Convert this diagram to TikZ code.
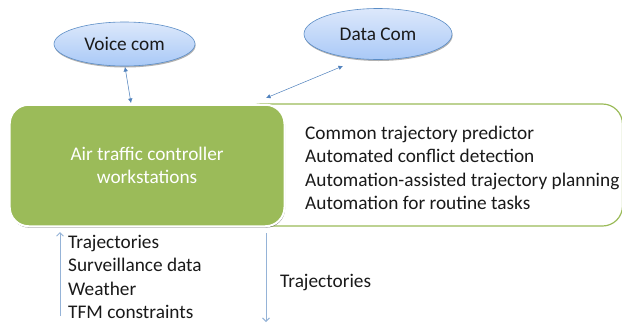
\documentclass[tikz,border=0pt]{standalone}
\usepackage{fontspec}
\setmainfont{Carlito}
\usetikzlibrary{shapes.geometric,arrows.meta,shadows,positioning}
\definecolor{grn}{HTML}{9BBB59}
\definecolor{ebd}{HTML}{5B8DC6}
\definecolor{ltop}{HTML}{DCE8FB}
\definecolor{lbot}{HTML}{A9C9F7}
\definecolor{arr}{HTML}{4F81BD}
\definecolor{arr2}{HTML}{95B3D7}
\definecolor{txt}{HTML}{1A1A1A}
\tikzset{x=1pt,y=-1pt,
 cloudy/.style={ellipse,draw=ebd,line width=0.6pt,top color=ltop,bottom color=lbot,inner sep=0pt,text=txt,font=\fontsize{19.3pt}{23pt}\selectfont,
  drop shadow={shadow xshift=0.6pt,shadow yshift=-1.5pt,opacity=.3,fill=black}},
 dark/.style={draw=arr,line width=0.5pt,{Latex[length=4.5pt,width=4.5pt]}-{Latex[length=4.5pt,width=4.5pt]}},
 light/.style={draw=arr2,line width=0.9pt,-{Straight Barb[length=3.5pt,width=7pt]}},
 lab/.style={inner sep=0pt,anchor=north west,align=left,text=txt,font=\fontsize{19.3pt}{23.3pt}\selectfont},
}
\begin{document}
\begin{tikzpicture}
\useasboundingbox (0,0) rectangle (622,322);
\fill[white] (0,0) rectangle (622,322);
\node[draw=grn,line width=1.2pt,fill=white,rounded corners=20pt,minimum width=382pt,minimum height=122pt,inner sep=0pt] (panel) at (431.5,165) {};
\node[rounded corners=19pt,fill=grn,draw=white,line width=2pt,minimum width=274.8pt,minimum height=121.5pt,inner sep=0pt,text=white,align=center,
 font=\fontsize{19.3pt}{23.5pt}\selectfont,drop shadow={shadow xshift=0.6pt,shadow yshift=-1.4pt,opacity=.45,fill=black}] (work) at (147.1,165.5) {Air traffic controller\\workstations};
\node[cloudy,minimum width=141pt,minimum height=44pt] (voice) at (124.5,44) {Voice com};
\node[cloudy,minimum width=148pt,minimum height=51pt] (data) at (378,34) {Data Com};
\coordinate (vb) at (125,67);
\coordinate (wt) at (131,103);
\coordinate (da) at (343,66);
\coordinate (db) at (266,98);
\draw[dark] (vb) -- (wt);
\draw[dark] (da) -- (db);
\node[lab] (tools) at (305,126) {Common trajectory predictor\\Automated conflict detection\\Automation-assisted trajectory planning\\Automation for routine tasks};
\node[lab] (inputs) at (68,235) {Trajectories\\Surveillance data\\Weather\\TFM constraints};
\node[lab] (outp) at (280,274) {Trajectories};
\coordinate (ia) at (60,316);
\coordinate (ib) at (60,232);
\coordinate (oa) at (266,233);
\coordinate (ob) at (266,322);
\draw[light] (ia) -- (ib);
\draw[light] (oa) -- (ob);
\end{tikzpicture}
\end{document}
